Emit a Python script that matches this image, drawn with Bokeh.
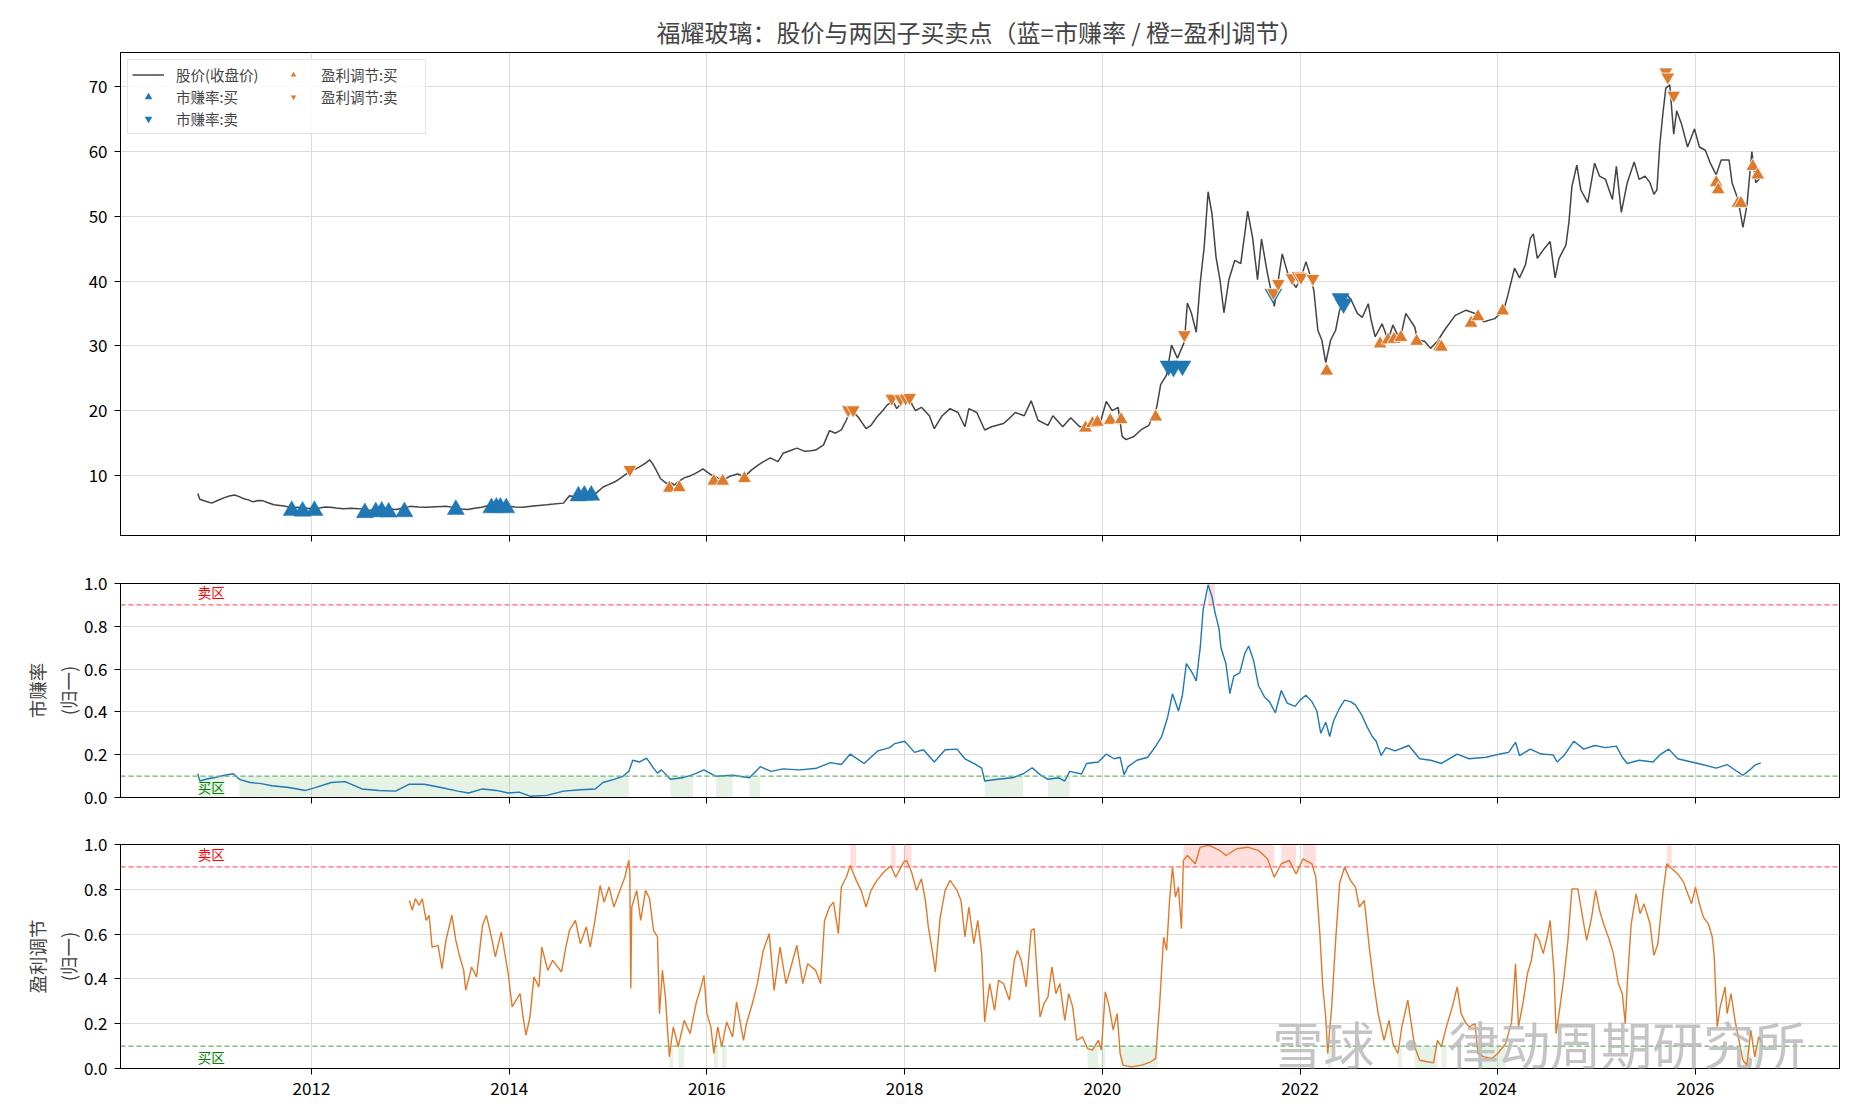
from bokeh.plotting import figure
from bokeh.models import (Range1d, FixedTicker, PrintfTickFormatter, Legend, LegendItem,
                          Span, Label, CustomLabelingPolicy)
from bokeh.layouts import column
from bokeh.embed import file_html
from bokeh.resources import INLINE

FONT = "Noto Sans CJK SC"

# ---------------- data ----------------
price_x = [2010.85, 2010.87, 2010.93, 2010.99, 2011.05, 2011.12, 2011.17, 2011.22, 2011.27, 2011.31,
           2011.36, 2011.41, 2011.46, 2011.51, 2011.56, 2011.62, 2011.68, 2011.74, 2011.80, 2011.86,
           2011.93, 2012.01, 2012.08, 2012.14, 2012.19, 2012.25, 2012.32, 2012.40, 2012.48, 2012.54,
           2012.59, 2012.65, 2012.71, 2012.78, 2012.86, 2012.93, 2013.00, 2013.08, 2013.17, 2013.26,
           2013.37, 2013.46, 2013.52, 2013.58, 2013.65, 2013.72, 2013.78, 2013.83, 2013.90, 2013.99,
           2014.06, 2014.14, 2014.22, 2014.30, 2014.38, 2014.45, 2014.55, 2014.58, 2014.61, 2014.66,
           2014.72, 2014.80, 2014.88, 2014.95, 2015.01, 2015.07, 2015.13, 2015.19, 2015.24, 2015.28,
           2015.34, 2015.39, 2015.42, 2015.45, 2015.48, 2015.53, 2015.59, 2015.63, 2015.67, 2015.72,
           2015.77, 2015.83, 2015.88, 2015.92, 2015.96, 2016.01, 2016.06, 2016.11, 2016.17, 2016.24,
           2016.31, 2016.38, 2016.45, 2016.51, 2016.56, 2016.64, 2016.72, 2016.77, 2016.84, 2016.91,
           2016.99, 2017.05, 2017.10, 2017.18, 2017.24, 2017.30, 2017.36, 2017.41, 2017.45, 2017.49,
           2017.53, 2017.61, 2017.66, 2017.72, 2017.78, 2017.82, 2017.88, 2017.92, 2017.99, 2018.05,
           2018.08, 2018.11, 2018.17, 2018.25, 2018.30, 2018.38, 2018.46, 2018.54, 2018.61, 2018.65,
           2018.73, 2018.81, 2018.88, 2019.00, 2019.06, 2019.12, 2019.21, 2019.28, 2019.35, 2019.45,
           2019.50, 2019.60, 2019.68, 2019.77, 2019.85, 2019.97, 2020.04, 2020.10, 2020.16, 2020.20,
           2020.24, 2020.32, 2020.39, 2020.47, 2020.55, 2020.59, 2020.65, 2020.70, 2020.76, 2020.83,
           2020.86, 2020.90, 2020.95, 2020.99, 2021.03, 2021.07, 2021.11, 2021.15, 2021.19, 2021.23,
           2021.28, 2021.34, 2021.40, 2021.44, 2021.47, 2021.52, 2021.57, 2021.61, 2021.67, 2021.74,
           2021.79, 2021.82, 2021.86, 2021.89, 2021.96, 2022.02, 2022.06, 2022.11, 2022.14, 2022.18,
           2022.22, 2022.26, 2022.31, 2022.36, 2022.40, 2022.47, 2022.52, 2022.58, 2022.63, 2022.69,
           2022.72, 2022.76, 2022.83, 2022.89, 2022.94, 2023.01, 2023.07, 2023.16, 2023.19, 2023.26,
           2023.32, 2023.39, 2023.46, 2023.57, 2023.68, 2023.77, 2023.86, 2023.97, 2024.06, 2024.10,
           2024.17, 2024.22, 2024.28, 2024.33, 2024.36, 2024.40, 2024.47, 2024.53, 2024.58, 2024.62,
           2024.69, 2024.72, 2024.75, 2024.80, 2024.84, 2024.91, 2024.98, 2025.03, 2025.09, 2025.16,
           2025.20, 2025.25, 2025.31, 2025.38, 2025.43, 2025.49, 2025.54, 2025.58, 2025.61, 2025.64,
           2025.67, 2025.70, 2025.74, 2025.78, 2025.81, 2025.86, 2025.92, 2025.99, 2026.04, 2026.10,
           2026.15, 2026.21, 2026.26, 2026.34, 2026.37, 2026.43, 2026.48, 2026.52, 2026.57, 2026.61,
           2026.66]
price_y = [7.2, 6.3, 6.0, 5.7, 6.1, 6.55, 6.8, 6.95, 6.7, 6.4,
           6.2, 5.9, 6.1, 6.05, 5.75, 5.45, 5.35, 5.2, 5.0, 5.05,
           4.95, 4.85, 4.95, 5.1, 5.05, 4.95, 4.85, 4.9, 4.85, 4.7,
           4.55, 4.75, 4.95, 4.8, 4.7, 4.95, 5.2, 5.1, 5.05, 5.15,
           5.2, 4.95, 4.8, 4.7, 4.9, 5.05, 5.3, 5.45, 5.3, 5.2,
           5.1, 5.05, 5.2, 5.35, 5.45, 5.55, 5.7, 6.3, 6.85, 6.7,
           6.55, 6.9, 7.25, 8.2, 8.6, 9.0, 9.6, 10.25, 10.7, 11.0,
           11.5, 12.0, 12.4, 11.8, 11.0, 9.5, 8.75, 8.9, 8.5, 9.1,
           9.6, 9.9, 10.25, 10.6, 11.0, 10.4, 9.9, 9.6, 9.3, 9.9,
           10.2, 9.8, 10.8, 11.5, 12.0, 12.7, 12.1, 13.4, 13.8, 14.2,
           13.7, 13.8, 13.9, 14.7, 16.9, 16.5, 17.0, 18.5, 20.0, 19.6,
           19.0, 17.2, 17.7, 19.0, 20.0, 20.8, 21.5, 20.3, 21.5, 21.8,
           20.8, 20.0, 20.5, 19.2, 17.2, 19.2, 20.3, 19.7, 17.5, 20.3,
           19.7, 17.0, 17.5, 18.0, 18.8, 19.7, 19.2, 21.5, 18.5, 17.7,
           19.2, 17.5, 18.9, 17.5, 17.6, 17.7, 21.4, 20.0, 20.5, 16.0,
           15.5, 16.0, 17.0, 17.7, 20.5, 24.0, 25.5, 30.1, 28.1, 30.6,
           36.6, 35.1, 32.1, 39.7, 45.2, 53.8, 50.3, 43.7, 40.2, 35.1,
           40.2, 43.2, 42.7, 47.2, 50.8, 46.7, 40.2, 46.5, 41.2, 36.1,
           41.2, 44.2, 42.0, 40.5, 39.0, 41.0, 43.0, 40.5, 38.5, 32.4,
           30.9, 27.4, 30.9, 32.4, 35.5, 38.0, 37.0, 35.0, 34.4, 36.5,
           33.9, 31.4, 33.4, 30.9, 33.2, 30.9, 35.0, 32.9, 30.9, 30.7,
           29.6, 30.7, 32.4, 34.7, 35.5, 35.0, 33.7, 34.2, 35.5, 37.7,
           42.0, 40.5, 42.5, 46.6, 47.3, 43.5, 45.0, 46.1, 40.5, 43.5,
           45.6, 49.1, 54.6, 57.9, 54.1, 52.1, 58.2, 56.2, 55.7, 52.6,
           57.7, 50.6, 55.2, 58.4, 55.7, 56.2, 55.2, 53.4, 54.1, 61.2,
           65.8, 69.8, 70.3, 62.7, 66.3, 64.2, 60.7, 63.5, 60.7, 60.2,
           58.2, 56.4, 58.7, 58.7, 55.2, 52.6, 48.3, 51.6, 60.0, 55.2,
           56.0]

# 市赚率 (normalised)
pe_x = [2010.85, 2010.87, 2010.93, 2011.01, 2011.12, 2011.21, 2011.27, 2011.38, 2011.49, 2011.60,
        2011.77, 2011.94, 2012.03, 2012.20, 2012.34, 2012.51, 2012.68, 2012.85, 2012.99, 2013.14,
        2013.31, 2013.48, 2013.59, 2013.73, 2013.87, 2013.99, 2014.10, 2014.21, 2014.38, 2014.55,
        2014.72, 2014.87, 2014.95, 2015.06, 2015.15, 2015.21, 2015.25, 2015.32, 2015.39, 2015.46,
        2015.50, 2015.54, 2015.63, 2015.75, 2015.86, 2015.97, 2016.09, 2016.26, 2016.43, 2016.54,
        2016.65, 2016.77, 2016.94, 2017.11, 2017.25, 2017.36, 2017.45, 2017.59, 2017.73, 2017.85,
        2017.90, 2018.00, 2018.10, 2018.19, 2018.30, 2018.41, 2018.53, 2018.61, 2018.70, 2018.78,
        2018.81, 2018.94, 2019.09, 2019.20, 2019.29, 2019.37, 2019.45, 2019.56, 2019.62, 2019.67,
        2019.79, 2019.84, 2019.96, 2020.04, 2020.12, 2020.18, 2020.22, 2020.26, 2020.35, 2020.46,
        2020.54, 2020.60, 2020.66, 2020.71, 2020.77, 2020.81, 2020.85, 2020.91, 2020.95, 2020.99,
        2021.02, 2021.07, 2021.11, 2021.14, 2021.18, 2021.20, 2021.25, 2021.29, 2021.33, 2021.39,
        2021.44, 2021.48, 2021.53, 2021.58, 2021.64, 2021.69, 2021.75, 2021.81, 2021.87, 2021.95,
        2022.00, 2022.06, 2022.12, 2022.17, 2022.21, 2022.26, 2022.30, 2022.34, 2022.40, 2022.45,
        2022.51, 2022.56, 2022.62, 2022.68, 2022.73, 2022.77, 2022.82, 2022.87, 2022.96, 2023.10,
        2023.21, 2023.32, 2023.43, 2023.59, 2023.71, 2023.88, 2024.02, 2024.11, 2024.18, 2024.22,
        2024.33, 2024.44, 2024.56, 2024.60, 2024.67, 2024.77, 2024.87, 2024.98, 2025.09, 2025.20,
        2025.26, 2025.31, 2025.43, 2025.57, 2025.65, 2025.73, 2025.82, 2025.96, 2026.07, 2026.21,
        2026.32, 2026.41, 2026.48, 2026.55, 2026.60, 2026.66]
pe_y = [0.111, 0.077, 0.085, 0.092, 0.104, 0.111, 0.085, 0.070, 0.065, 0.055,
        0.047, 0.033, 0.045, 0.070, 0.074, 0.040, 0.033, 0.030, 0.062, 0.062,
        0.047, 0.030, 0.021, 0.040, 0.033, 0.021, 0.025, 0.006, 0.010, 0.030,
        0.036, 0.040, 0.070, 0.085, 0.099, 0.122, 0.174, 0.166, 0.184, 0.137,
        0.114, 0.129, 0.085, 0.092, 0.107, 0.129, 0.099, 0.104, 0.092, 0.144,
        0.122, 0.134, 0.129, 0.137, 0.163, 0.154, 0.203, 0.159, 0.218, 0.233,
        0.252, 0.263, 0.211, 0.223, 0.166, 0.223, 0.226, 0.181, 0.159, 0.137,
        0.077, 0.085, 0.092, 0.111, 0.139, 0.107, 0.085, 0.092, 0.077, 0.122,
        0.110, 0.159, 0.166, 0.203, 0.181, 0.188, 0.107, 0.144, 0.174, 0.188,
        0.240, 0.285, 0.374, 0.485, 0.404, 0.478, 0.626, 0.582, 0.545, 0.700,
        0.878, 0.994, 0.938, 0.864, 0.789, 0.700, 0.626, 0.485, 0.567, 0.582,
        0.671, 0.708, 0.641, 0.522, 0.470, 0.448, 0.396, 0.500, 0.441, 0.426,
        0.455, 0.478, 0.448, 0.404, 0.300, 0.352, 0.285, 0.359, 0.418, 0.455,
        0.448, 0.433, 0.389, 0.329, 0.285, 0.263, 0.196, 0.233, 0.218, 0.243,
        0.181, 0.174, 0.159, 0.203, 0.181, 0.188, 0.203, 0.211, 0.258, 0.196,
        0.226, 0.203, 0.199, 0.166, 0.196, 0.263, 0.226, 0.243, 0.233, 0.240,
        0.188, 0.159, 0.174, 0.166, 0.203, 0.226, 0.181, 0.166, 0.154, 0.137,
        0.154, 0.125, 0.104, 0.129, 0.151, 0.162]

# 盈利调节 (normalised)
pa_x = [2012.99, 2013.02, 2013.05, 2013.09, 2013.12, 2013.16, 2013.19, 2013.22, 2013.28, 2013.32,
        2013.36, 2013.42, 2013.46, 2013.50, 2013.54, 2013.56, 2013.62, 2013.67, 2013.73, 2013.77,
        2013.82, 2013.86, 2013.92, 2013.99, 2014.03, 2014.07, 2014.11, 2014.14, 2014.17, 2014.21,
        2014.25, 2014.30, 2014.33, 2014.39, 2014.44, 2014.53, 2014.57, 2014.61, 2014.67, 2014.72,
        2014.78, 2014.82, 2014.87, 2014.92, 2014.96, 2015.01, 2015.06, 2015.12, 2015.17, 2015.21,
        2015.22, 2015.23, 2015.24, 2015.29, 2015.33, 2015.38, 2015.42, 2015.46, 2015.50, 2015.52,
        2015.55, 2015.58, 2015.62, 2015.66, 2015.71, 2015.77, 2015.83, 2015.89, 2015.94, 2015.97,
        2016.00, 2016.04, 2016.07, 2016.11, 2016.15, 2016.20, 2016.26, 2016.30, 2016.37, 2016.40,
        2016.46, 2016.51, 2016.57, 2016.63, 2016.68, 2016.74, 2016.80, 2016.85, 2016.91, 2016.97,
        2017.02, 2017.10, 2017.15, 2017.19, 2017.24, 2017.28, 2017.33, 2017.36, 2017.41, 2017.45,
        2017.51, 2017.56, 2017.61, 2017.66, 2017.72, 2017.79, 2017.86, 2017.91, 2017.99, 2018.02,
        2018.07, 2018.12, 2018.17, 2018.21, 2018.24, 2018.29, 2018.31, 2018.36, 2018.41, 2018.46,
        2018.53, 2018.57, 2018.61, 2018.65, 2018.70, 2018.74, 2018.78, 2018.81, 2018.86, 2018.91,
        2018.95, 2019.00, 2019.06, 2019.11, 2019.14, 2019.18, 2019.23, 2019.28, 2019.31, 2019.34,
        2019.37, 2019.41, 2019.45, 2019.49, 2019.53, 2019.57, 2019.62, 2019.66, 2019.70, 2019.74,
        2019.80, 2019.85, 2019.90, 2019.96, 2019.99, 2020.03, 2020.07, 2020.11, 2020.15, 2020.18,
        2020.21, 2020.29, 2020.40, 2020.49, 2020.54, 2020.56, 2020.58, 2020.62, 2020.65, 2020.68,
        2020.71, 2020.74, 2020.77, 2020.80, 2020.82, 2020.86, 2020.94, 2020.99, 2021.08, 2021.19,
        2021.25, 2021.36, 2021.47, 2021.58, 2021.67, 2021.74, 2021.81, 2021.89, 2021.96, 2022.03,
        2022.12, 2022.16, 2022.20, 2022.23, 2022.26, 2022.28, 2022.32, 2022.36, 2022.40, 2022.45,
        2022.51, 2022.56, 2022.60, 2022.65, 2022.70, 2022.75, 2022.79, 2022.85, 2022.90, 2022.94,
        2022.99, 2023.03, 2023.09, 2023.13, 2023.16, 2023.21, 2023.29, 2023.35, 2023.39, 2023.43,
        2023.48, 2023.54, 2023.59, 2023.63, 2023.67, 2023.71, 2023.77, 2023.80, 2023.86, 2023.94,
        2024.00, 2024.08, 2024.14, 2024.18, 2024.21, 2024.26, 2024.30, 2024.34, 2024.38, 2024.42,
        2024.46, 2024.50, 2024.53, 2024.57, 2024.59, 2024.62, 2024.67, 2024.71, 2024.75, 2024.81,
        2024.87, 2024.90, 2024.95, 2024.99, 2025.03, 2025.07, 2025.13, 2025.17, 2025.22, 2025.26,
        2025.29, 2025.31, 2025.35, 2025.40, 2025.44, 2025.48, 2025.54, 2025.58, 2025.62, 2025.67,
        2025.71, 2025.76, 2025.82, 2025.88, 2025.91, 2025.96, 2026.00, 2026.04, 2026.08, 2026.13,
        2026.17, 2026.19, 2026.22, 2026.25, 2026.30, 2026.32, 2026.36, 2026.40, 2026.44, 2026.48,
        2026.52, 2026.56, 2026.60, 2026.64, 2026.67]
pa_y = [0.750, 0.706, 0.758, 0.728, 0.758, 0.661, 0.684, 0.542, 0.550, 0.446,
        0.572, 0.684, 0.572, 0.498, 0.438, 0.349, 0.453, 0.409, 0.639, 0.684,
        0.587, 0.498, 0.609, 0.423, 0.275, 0.305, 0.334, 0.230, 0.149, 0.230,
        0.409, 0.364, 0.542, 0.438, 0.483, 0.431, 0.535, 0.617, 0.661, 0.557,
        0.632, 0.542, 0.669, 0.817, 0.743, 0.810, 0.721, 0.795, 0.854, 0.929,
        0.884, 0.357, 0.721, 0.795, 0.661, 0.795, 0.758, 0.617, 0.587, 0.245,
        0.438, 0.320, 0.052, 0.186, 0.097, 0.215, 0.156, 0.290, 0.364, 0.416,
        0.245, 0.186, 0.067, 0.186, 0.097, 0.208, 0.141, 0.297, 0.126, 0.200,
        0.290, 0.379, 0.527, 0.602, 0.349, 0.542, 0.379, 0.453, 0.550, 0.379,
        0.468, 0.438, 0.379, 0.661, 0.721, 0.743, 0.602, 0.810, 0.854, 0.906,
        0.840, 0.795, 0.721, 0.795, 0.840, 0.877, 0.905, 0.854, 0.921, 0.929,
        0.877, 0.795, 0.847, 0.750, 0.632, 0.498, 0.431, 0.676, 0.795, 0.840,
        0.795, 0.750, 0.587, 0.721, 0.557, 0.661, 0.513, 0.208, 0.379, 0.260,
        0.394, 0.379, 0.305, 0.483, 0.527, 0.483, 0.364, 0.617, 0.624, 0.423,
        0.230, 0.290, 0.320, 0.453, 0.334, 0.379, 0.215, 0.334, 0.275, 0.126,
        0.141, 0.089, 0.082, 0.126, 0.082, 0.342, 0.275, 0.171, 0.245, 0.067,
        0.015, 0.007, 0.015, 0.030, 0.045, 0.171, 0.290, 0.587, 0.527, 0.750,
        0.899, 0.765, 0.810, 0.624, 0.929, 0.951, 0.914, 0.988, 0.996, 0.973,
        0.951, 0.981, 0.988, 0.973, 0.936, 0.854, 0.914, 0.929, 0.869, 0.936,
        0.914, 0.854, 0.602, 0.364, 0.230, 0.067, 0.275, 0.572, 0.825, 0.899,
        0.840, 0.810, 0.721, 0.750, 0.542, 0.364, 0.245, 0.126, 0.215, 0.111,
        0.067, 0.186, 0.305, 0.186, 0.097, 0.037, 0.030, 0.025, 0.126, 0.097,
        0.186, 0.275, 0.364, 0.245, 0.208, 0.186, 0.200, 0.067, 0.052, 0.045,
        0.067, 0.111, 0.208, 0.468, 0.186, 0.305, 0.423, 0.483, 0.602, 0.572,
        0.513, 0.587, 0.661, 0.423, 0.156, 0.245, 0.409, 0.572, 0.802, 0.802,
        0.646, 0.572, 0.676, 0.795, 0.706, 0.646, 0.572, 0.513, 0.379, 0.334,
        0.200, 0.379, 0.646, 0.780, 0.691, 0.735, 0.646, 0.505, 0.557, 0.780,
        0.914, 0.892, 0.869, 0.832, 0.795, 0.735, 0.810, 0.735, 0.676, 0.646,
        0.587, 0.498, 0.186, 0.275, 0.364, 0.245, 0.334, 0.215, 0.126, 0.037,
        0.015, 0.171, 0.052, 0.141, 0.119]

# signals
pe_buy_x = [2011.80, 2011.91, 2012.03, 2012.54, 2012.65, 2012.71, 2012.78, 2012.94, 2013.46,
            2013.82, 2013.87, 2013.91, 2013.97, 2014.70, 2014.76, 2014.83]
pe_buy_y = [4.55, 4.45, 4.55, 4.2, 4.35, 4.45, 4.3, 4.35, 4.7, 4.96, 5.06, 5.06, 4.96, 6.8, 6.9, 6.9]
pe_sell_x = [2020.67, 2020.72, 2020.81, 2021.73, 2022.41, 2022.44]
pe_sell_y = [26.9, 26.7, 26.9, 38.0, 37.3, 36.5]
pa_buy_x = [2015.62, 2015.72, 2016.07, 2016.16, 2016.38, 2019.83, 2019.90, 2019.95, 2020.08,
            2020.19, 2020.54, 2022.27, 2022.81, 2022.89, 2022.95, 2023.02, 2023.18, 2023.41,
            2023.43, 2023.73, 2023.80, 2024.05, 2026.21, 2026.23, 2026.43, 2026.46, 2026.58, 2026.63]
pa_buy_y = [8.0, 8.1, 9.1, 9.1, 9.5, 17.3, 18.0, 18.2, 18.5, 18.6, 19.0, 26.1, 30.3, 30.9, 31.0,
            31.3, 30.7, 29.9, 29.8, 33.5, 34.5, 35.4, 55.2, 54.1, 52.0, 52.0, 57.7, 56.4]
pa_sell_x = [2015.22, 2017.43, 2017.48, 2017.87, 2017.96, 2018.01, 2018.05, 2020.83, 2021.73,
             2021.78, 2021.92, 2021.98, 2022.01, 2022.13, 2025.70, 2025.72, 2025.78]
pa_sell_y = [10.9, 20.1, 20.1, 21.9, 21.8, 21.9, 22.0, 31.7, 38.2, 39.6, 40.5, 40.8, 40.6, 40.4,
             72.3, 71.5, 68.7]

YEAR_TICKS = [2012, 2014, 2016, 2018, 2020, 2022, 2024, 2026]
PRICE_TICKS = [10, 20, 30, 40, 50, 60, 70]
NORM_TICKS = [0.0, 0.2, 0.4, 0.6, 0.8, 1.0]

BLUE = "#1f77b4"
ORANGE = "#de7a2b"
LEFT = 120
RIGHT = 12
W = LEFT + 1719 + RIGHT
XR = (2010.068, 2027.457)


def style(p, yticks, fmt, show_x):
    p.outline_line_color = "black"
    p.outline_line_width = 1
    p.outline_line_alpha = 1
    for ax in (p.xaxis[0], p.yaxis[0]):
        ax.axis_line_color = "black"
        ax.major_tick_line_color = "black"
        ax.major_tick_out = 6
        ax.major_tick_in = 0
        ax.minor_tick_line_color = None
        ax.major_label_text_font = FONT
        ax.major_label_text_font_size = "17px"
        ax.major_label_text_color = "black"
        ax.major_label_standoff = 7
        ax.axis_label_text_font = FONT
        ax.axis_label_text_font_style = "normal"
        ax.axis_label_text_font_size = "18.5px"
    p.xaxis.ticker = FixedTicker(ticks=YEAR_TICKS)
    p.xaxis.formatter = PrintfTickFormatter(format="%d")
    p.yaxis.ticker = FixedTicker(ticks=yticks)
    p.yaxis.formatter = PrintfTickFormatter(format=fmt)
    if not show_x:
        # shared x axis: tick marks only, no labels (as in the reference)
        p.xaxis.major_label_policy = CustomLabelingPolicy(code="return []")
    p.grid.grid_line_color = "#dcdcdc"
    p.grid.grid_line_width = 1
    p.background_fill_color = "white"
    p.border_fill_color = "white"


def zone_runs(xs, vs, test):
    runs = []
    start = None
    end = None
    for i, v in enumerate(vs):
        if test(v):
            if start is None:
                start = xs[i]
            end = xs[i + 1] if i + 1 < len(xs) else xs[i] + 0.01
        elif start is not None:
            runs.append((start, end))
            start = None
    if start is not None:
        runs.append((start, end))
    return runs


# ---------------- price panel ----------------
p1 = figure(width=W, height=564, x_range=Range1d(*XR), y_range=Range1d(0.7, 75.3),
            output_backend="svg", toolbar_location=None,
            min_border_left=LEFT, min_border_right=RIGHT, min_border_top=52, min_border_bottom=19)
p1.title.text = "福耀玻璃：股价与两因子买卖点（蓝=市赚率 / 橙=盈利调节）"
p1.title.align = "center"
p1.title.text_font = FONT
p1.title.text_font_size = "24px"
p1.title.text_font_style = "normal"
p1.title.standoff = 8
style(p1, PRICE_TICKS, "%d", False)

r_price = p1.line(price_x, price_y, line_color="#3a3a3a", line_width=1.5, line_alpha=0.95)
r_pb = p1.scatter(pe_buy_x, pe_buy_y, marker="triangle", size=17, fill_color=BLUE, line_color=BLUE,
                  line_width=0.5)
r_ps = p1.scatter(pe_sell_x, pe_sell_y, marker="inverted_triangle", size=17, fill_color=BLUE,
                  line_color=BLUE, line_width=0.5)
r_ab = p1.scatter(pa_buy_x, pa_buy_y, marker="triangle", size=14, fill_color=ORANGE,
                  line_color="white", line_width=0.8)
r_as = p1.scatter(pa_sell_x, pa_sell_y, marker="inverted_triangle", size=14, fill_color=ORANGE,
                  line_color="white", line_width=0.8)

legend = Legend(items=[
    LegendItem(label="股价(收盘价)", renderers=[r_price]),
    LegendItem(label="市赚率:买", renderers=[r_pb]),
    LegendItem(label="市赚率:卖", renderers=[r_ps]),
    LegendItem(label="盈利调节:买", renderers=[r_ab]),
    LegendItem(label="盈利调节:卖", renderers=[r_as]),
], location="top_left", ncols=2)
legend.label_text_font = FONT
legend.label_text_font_size = "14.5px"
legend.glyph_width = 32
legend.glyph_height = 17
legend.label_height = 17
legend.label_width = 100
legend.spacing = 1
legend.padding = 4
legend.margin = 7
legend.label_standoff = 12
legend.border_line_color = "#cccccc"
legend.border_line_width = 1
legend.background_fill_alpha = 0.85
p1.add_layout(legend)


# ---------------- indicator panels ----------------
def indicator_panel(xs, ys, color, label, height, top, bottom, show_x):
    p = figure(width=W, height=height, x_range=p1.x_range, y_range=Range1d(0, 1),
               output_backend="svg", toolbar_location=None,
               min_border_left=LEFT, min_border_right=RIGHT, min_border_top=top,
               min_border_bottom=bottom)
    style(p, NORM_TICKS, "%.1f", show_x)
    p.yaxis.axis_label = label
    p.yaxis.axis_label_standoff = 0
    for a, b in zone_runs(xs, ys, lambda v: v < 0.1):
        p.quad(left=[a], right=[b], bottom=[0], top=[0.1], fill_color="green", fill_alpha=0.1,
               line_color=None)
    for a, b in zone_runs(xs, ys, lambda v: v > 0.9):
        p.quad(left=[a], right=[b], bottom=[0.9], top=[1.0], fill_color="red", fill_alpha=0.13,
               line_color=None)
    p.line(xs, ys, line_color=color, line_width=1.4)
    p.add_layout(Span(location=0.9, dimension="width", line_color="#ff6666", line_width=1.3,
                      line_dash="5 3"))
    p.add_layout(Span(location=0.1, dimension="width", line_color="#66b366", line_width=1.3,
                      line_dash="5 3"))
    p.add_layout(Label(x=price_x[0], y=0.912, text="卖区", text_color="red", text_font=FONT,
                       text_font_size="13.5px", text_baseline="bottom"))
    p.add_layout(Label(x=price_x[0], y=0.097, text="买区", text_color="green", text_font=FONT,
                       text_font_size="13.5px", text_baseline="top"))
    return p


p2 = indicator_panel(pe_x, pe_y, BLUE, "市赚率\n(归一)", 262, 19, 18, False)
p3 = indicator_panel(pa_x, pa_y, ORANGE, "盈利调节\n(归一)", 284, 18, 42, True)

p3.add_layout(Label(x=2021.72, y=0.115, text="雪球 · 律动周期研究所", text_color="#b5b5b5",
                    text_alpha=0.8, text_font=FONT, text_font_size="51px",
                    text_baseline="middle"))

layout = column(p1, p2, p3)
open("out.html", "w").write(file_html(layout, INLINE))
